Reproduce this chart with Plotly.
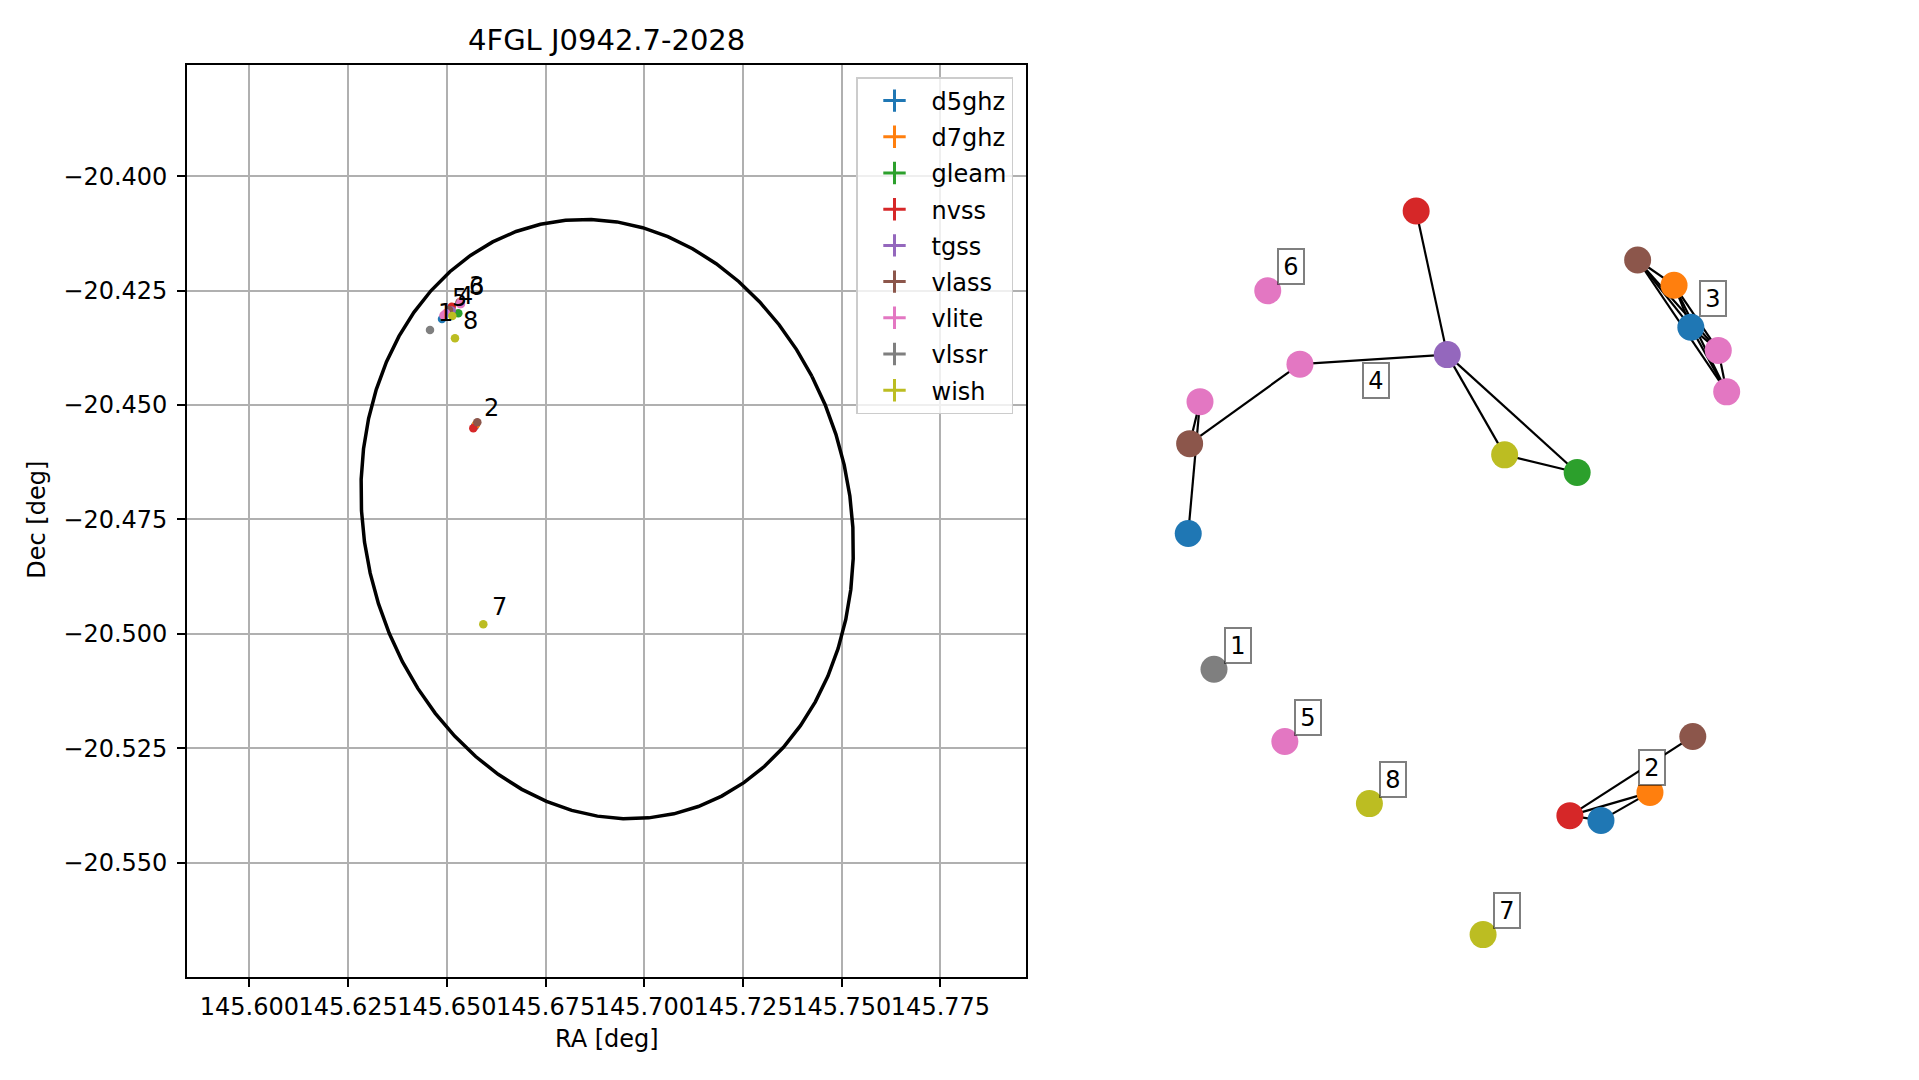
import numpy as np
import plotly.graph_objects as go

# ---------------- data ----------------
CATALOGS = ["d5ghz", "d7ghz", "gleam", "nvss", "tgss", "vlass", "vlite", "vlssr", "wish"]
CATALOG_COLORS = ["#1f77b4", "#ff7f0e", "#2ca02c", "#d62728", "#9467bd",
                  "#8c564b", "#e377c2", "#7f7f7f", "#bcbd22"]

TITLE = "4FGL J0942.7-2028"

# one entry per matched radio source
SRC_CATALOG = ["vlssr",
               "d5ghz", "d7ghz", "nvss", "vlass",
               "vlass", "d7ghz", "d5ghz", "vlite", "vlite",
               "nvss", "tgss", "wish", "gleam", "vlite", "vlite", "vlass", "d5ghz",
               "vlite", "vlite", "wish", "wish"]
SRC_CLUSTER = [1,
               2, 2, 2, 2,
               3, 3, 3, 3, 3,
               4, 4, 4, 4, 4, 4, 4, 4,
               5, 6, 7, 8]
SRC_RA = [145.64573,
          145.65713, 145.65738, 145.65670, 145.65771,
          145.65320, 145.65333, 145.65341, 145.65351, 145.65358,
          145.65123, 145.65123, 145.65138, 145.65290, 145.64978, 145.64928, 145.65054, 145.64877,
          145.64915, 145.65333, 145.65923, 145.65206]
SRC_DEC = [-20.43360,
           -20.45458, -20.45425, -20.45508, -20.45377,
           -20.42759, -20.42749, -20.42755, -20.42742, -20.42792,
           -20.42851, -20.42934, -20.43054, -20.42995, -20.42989, -20.43033, -20.42923, -20.43120,
           -20.43043, -20.42792, -20.49790, -20.43542]

# graph layout positions of the same sources (network panel)
NODE_X = [-0.807,
          0.575, 0.750, 0.464, 0.903,
          0.706, 0.836, 0.896, 0.994, 1.024,
          -0.085, 0.026, 0.231, 0.490, -0.500, -0.857, -0.894, -0.899,
          -0.554, -0.615, 0.154, -0.252]
NODE_Y = [-0.391,
          -0.931, -0.831, -0.914, -0.631,
          1.071, 0.981, 0.831, 0.748, 0.600,
          1.246, 0.733, 0.375, 0.312, 0.699, 0.565, 0.415, 0.094,
          -0.649, 0.961, -1.339, -0.871]

EDGES = [(3, 4), (3, 2), (1, 2), (3, 1),
         (5, 6), (5, 7), (5, 8), (5, 9), (6, 7), (6, 8), (6, 9), (7, 8), (7, 9), (8, 9),
         (10, 11), (11, 14), (11, 12), (11, 13), (12, 13), (14, 16), (15, 16), (15, 17)]

# 4FGL error ellipse
ELL_RA0 = 145.6906
ELL_DEC0 = -20.4749
ELL_SEMI_MAJOR = 0.0672
ELL_SEMI_MINOR = 0.0605
ELL_ANGLE_DEG = 31.0

X_TICK0, X_DTICK = 145.600, 0.025
Y_TICK0, Y_DTICK = -20.400, 0.025

# ---------------- layout constants ----------------
W, H = 1919, 1080
AX_L, AX_R, AX_T, AX_B = 187.2, 1025.5, 64.9, 976.6
X_RANGE = [145.58425, 145.79653]
Y_RANGE = [-20.57488, -20.37568]
G_L, G_R = 1060.0, 1900.0
G_XRANGE = [-1.357, 1.643]
G_YRANGE = [-1.489, 1.768]
FONT = "DejaVu Sans"

color_of = dict(zip(CATALOGS, CATALOG_COLORS))

fig = go.Figure()

# ellipse
t = np.linspace(0, 2 * np.pi, 61)
phi = np.deg2rad(ELL_ANGLE_DEG)
ell_ra = ELL_RA0 + ELL_SEMI_MINOR * np.cos(t) * np.cos(phi) - ELL_SEMI_MAJOR * np.sin(t) * np.sin(phi)
ell_dec = ELL_DEC0 + ELL_SEMI_MINOR * np.cos(t) * np.sin(phi) + ELL_SEMI_MAJOR * np.sin(t) * np.cos(phi)
fig.add_trace(go.Scatter(x=ell_ra, y=ell_dec, mode="lines",
                         line=dict(color="black", width=3.5), showlegend=False,
                         hoverinfo="skip", xaxis="x", yaxis="y"))

# sources per catalog
for cat in CATALOGS:
    idx = [i for i, c in enumerate(SRC_CATALOG) if c == cat]
    fig.add_trace(go.Scatter(x=[SRC_RA[i] for i in idx], y=[SRC_DEC[i] for i in idx],
                             mode="markers", marker=dict(color=color_of[cat], size=8.5),
                             name=cat, showlegend=False, legendgroup=cat,
                             xaxis="x", yaxis="y"))
    fig.add_trace(go.Scatter(x=[None], y=[None], mode="markers", name=cat,
                             legendgroup=cat, showlegend=True,
                             marker=dict(color=color_of[cat], symbol="cross-thin-open", size=16,
                                         line=dict(color=color_of[cat], width=3)),
                             xaxis="x", yaxis="y"))

# network edges
ex, ey = [], []
for a, b in EDGES:
    ex += [NODE_X[a], NODE_X[b], None]
    ey += [NODE_Y[a], NODE_Y[b], None]
fig.add_trace(go.Scatter(x=ex, y=ey, mode="lines", line=dict(color="black", width=2.2),
                         showlegend=False, hoverinfo="skip", xaxis="x2", yaxis="y2"))
fig.add_trace(go.Scatter(x=NODE_X, y=NODE_Y, mode="markers",
                         marker=dict(color=[color_of[c] for c in SRC_CATALOG], size=27),
                         showlegend=False, xaxis="x2", yaxis="y2"))

annotations = []
clusters = sorted(set(SRC_CLUSTER))
for c in clusters:
    idx = [i for i, k in enumerate(SRC_CLUSTER) if k == c]
    mra = float(np.mean([SRC_RA[i] for i in idx]))
    mdec = float(np.mean([SRC_DEC[i] for i in idx]))
    annotations.append(dict(x=mra, y=mdec, xref="x", yref="y", text=str(c), showarrow=False,
                            xanchor="center", yanchor="middle", xshift=16, yshift=17,
                            font=dict(family=FONT, size=24, color="black")))
    gx = float(np.mean([NODE_X[i] for i in idx]))
    gy = float(np.mean([NODE_Y[i] for i in idx]))
    annotations.append(dict(x=gx, y=gy, xref="x2", yref="y2", text=str(c), showarrow=False,
                            xanchor="center", yanchor="middle", xshift=23.6, yshift=24,
                            width=20, height=29, bgcolor="white",
                            bordercolor="rgba(0,0,0,0.5)", borderwidth=2, borderpad=2,
                            font=dict(family=FONT, size=24, color="black")))

annotations.append(dict(x=(AX_L + AX_R) / 2 / W, y=1 - 40 / H, xref="paper", yref="paper",
                        text=TITLE, showarrow=False, xanchor="center", yanchor="middle",
                        font=dict(family=FONT, size=29, color="black")))
annotations.append(dict(x=607 / W, y=1 - 1039 / H, xref="paper", yref="paper",
                        text="RA [deg]", showarrow=False, xanchor="center", yanchor="middle",
                        font=dict(family=FONT, size=24, color="black")))
annotations.append(dict(x=36.7 / W, y=1 - 520 / H, xref="paper", yref="paper",
                        text="Dec [deg]", showarrow=False, textangle=-90,
                        xanchor="center", yanchor="middle",
                        font=dict(family=FONT, size=24, color="black")))

axis_common = dict(showline=True, linecolor="black", linewidth=2, mirror=True,
                   showgrid=True, gridcolor="#b0b0b0", gridwidth=1.9, zeroline=False,
                   ticks="outside", ticklen=8, tickwidth=2, tickcolor="black",
                   tickfont=dict(family=FONT, size=24, color="black"), tickformat=".3f")

fig.update_layout(
    width=W, height=H, margin=dict(l=0, r=0, t=0, b=0, pad=0),
    paper_bgcolor="white", plot_bgcolor="white",
    font=dict(family=FONT, size=24, color="black"),
    xaxis=dict(domain=[AX_L / W, AX_R / W], range=X_RANGE, tick0=X_TICK0, dtick=X_DTICK,
               tickangle=0, anchor="y", **axis_common),
    yaxis=dict(domain=[1 - AX_B / H, 1 - AX_T / H], range=Y_RANGE, tick0=Y_TICK0, dtick=Y_DTICK,
               anchor="x", ticklabelstandoff=5, **axis_common),
    xaxis2=dict(domain=[G_L / W, G_R / W], range=G_XRANGE, visible=False, anchor="y2"),
    yaxis2=dict(domain=[1 - AX_B / H, 1 - AX_T / H], range=G_YRANGE, visible=False, anchor="x2"),
    legend=dict(x=1013 / W, y=1 - 77 / H, xanchor="right", yanchor="top",
                bgcolor="rgba(255,255,255,0.8)", bordercolor="#cccccc", borderwidth=1.5,
                font=dict(family=FONT, size=24, color="black"),
                itemwidth=64, traceorder="grouped", tracegroupgap=2),
    annotations=annotations,
    showlegend=True,
)

fig.write_html("out.html", config={"displayModeBar": False},
               post_script="document.body.style.margin='0';document.body.style.overflow='hidden';")
